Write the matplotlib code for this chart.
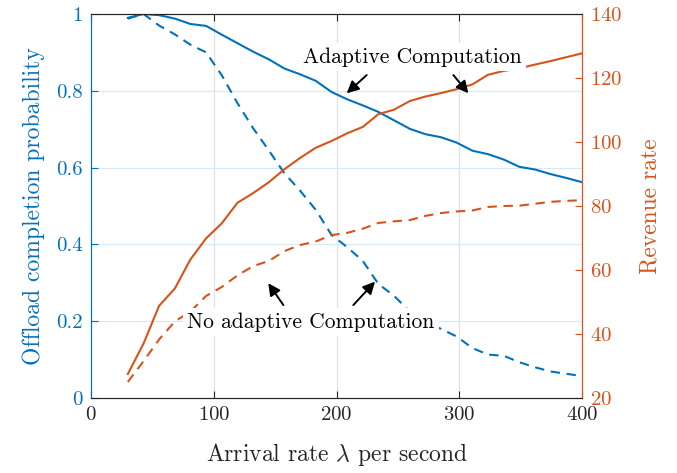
import matplotlib
matplotlib.use("Agg")
import matplotlib.pyplot as plt
import numpy as np

plt.rcParams['font.family'] = ['cmr10', 'DejaVu Serif']
plt.rcParams['mathtext.fontset'] = 'cm'
plt.rcParams['axes.unicode_minus'] = False
plt.rcParams['axes.formatter.use_mathtext'] = True

arrival_rate = [30, 42.8, 55.5, 68.3, 81, 93.8, 106.6, 119.3, 132, 144.8,
                157.6, 170.3, 183.1, 195.9, 208.6, 221.4, 234.1, 246.9, 259.7, 272.4,
                285.2, 297.9, 310.7, 323.4, 336.2, 349, 361.7, 374.5, 387.2, 400]

prob_adaptive = [0.990, 1.000, 0.997, 0.988, 0.974, 0.969, 0.946, 0.924, 0.902, 0.882,
                 0.858, 0.843, 0.826, 0.797, 0.778, 0.762, 0.745, 0.723, 0.701, 0.687,
                 0.679, 0.665, 0.644, 0.635, 0.621, 0.602, 0.595, 0.583, 0.573, 0.562]

prob_no_adaptive = [0.988, 1.000, 0.970, 0.947, 0.920, 0.900, 0.840, 0.768, 0.703, 0.645,
                    0.585, 0.540, 0.490, 0.425, 0.393, 0.357, 0.297, 0.266, 0.225, 0.196,
                    0.180, 0.160, 0.130, 0.113, 0.110, 0.093, 0.080, 0.069, 0.063, 0.057]

revenue_adaptive = [27.5, 37.0, 48.8, 54.2, 63.3, 69.9, 74.6, 81.0, 84.0, 87.4,
                    91.5, 95.0, 98.2, 100.3, 102.7, 104.7, 108.7, 110.1, 112.8, 114.2,
                    115.3, 116.5, 118.0, 121.0, 122.2, 123.0, 124.2, 125.3, 126.5, 127.7]

revenue_no_adaptive = [25.0, 31.5, 38.3, 43.9, 47.0, 51.9, 54.7, 58.3, 61.2, 62.8,
                       65.9, 67.8, 68.9, 70.9, 71.6, 72.9, 74.7, 75.2, 75.6, 76.9,
                       77.8, 78.3, 78.6, 79.7, 80.0, 80.1, 80.7, 81.3, 81.6, 81.8]

x_ticks = [0, 100, 200, 300, 400]
left_ticks = [0, 0.2, 0.4, 0.6, 0.8, 1]
left_ticklabels = ['0', '0.2', '0.4', '0.6', '0.8', '1']
right_ticks = [20, 40, 60, 80, 100, 120, 140]

BLUE = '#0072BD'
ORANGE = '#D95319'
DARK = '#262626'

fig = plt.figure(figsize=(6.77, 4.73), dpi=100)
ax1 = fig.add_axes([0.1344, 0.1586, 0.7253, 0.8118])
ax2 = ax1.twinx()

dash = (0, (4.5, 3.2))
ax1.plot(arrival_rate, prob_adaptive, color=BLUE, lw=1.5)
ax1.plot(arrival_rate, prob_no_adaptive, color=BLUE, lw=1.5, linestyle=dash)
ax2.plot(arrival_rate, revenue_adaptive, color=ORANGE, lw=1.5)
ax2.plot(arrival_rate, revenue_no_adaptive, color=ORANGE, lw=1.5, linestyle=dash)

ax1.set_xlim(0, 400)
ax1.set_ylim(0, 1)
ax2.set_ylim(20, 140)
ax1.set_xticks(x_ticks)
ax1.set_yticks(left_ticks)
ax1.set_yticklabels(left_ticklabels)
ax2.set_yticks(right_ticks)

# grid
for xv in x_ticks[1:-1]:
    ax1.axvline(xv, color='#e2e2e2', lw=0.9, zorder=0)
for yv in left_ticks[1:-1]:
    ax1.axhline(yv, color='#d9e8f5', lw=0.9, zorder=0)

ax1.tick_params(axis='x', direction='in', length=5, width=0.8, colors=DARK,
                labelsize=15, top=True, pad=6)
ax1.tick_params(axis='y', direction='in', length=5, width=0.8, colors=BLUE,
                labelsize=15, pad=6)
ax2.tick_params(axis='y', direction='in', length=5, width=0.8, colors=ORANGE,
                labelsize=15, pad=6)

for ax in (ax1, ax2):
    ax.spines['top'].set_color(DARK)
    ax.spines['bottom'].set_color(DARK)
    ax.spines['left'].set_color(BLUE)
    ax.spines['right'].set_color(ORANGE)
    for s in ax.spines.values():
        s.set_linewidth(0.8)

ax1.set_xlabel(r'Arrival rate $\lambda$ per second', fontsize=17, color=DARK, labelpad=12)
ax1.set_ylabel('Offload completion probability', fontsize=17, color=BLUE, labelpad=8)
ax2.set_ylabel('Revenue rate', fontsize=17, color=ORANGE, labelpad=12)

# annotations (drawn on top axes, positioned in left-axis data coords)
tr = ax1.transData
box = dict(boxstyle='square,pad=0.2', facecolor='white', edgecolor='none')
ax2.text(261.5, 0.888, 'Adaptive Computation', transform=tr, fontsize=15.5,
         ha='center', va='center', bbox=box, zorder=5)
ax2.text(179.2, 0.198, 'No adaptive Computation', transform=tr, fontsize=15.5,
         ha='center', va='center', bbox=box, zorder=5)

arrow = dict(arrowstyle='-|>', color='black', lw=1.4, mutation_scale=18,
             shrinkA=0, shrinkB=0)
for head, tail in [((208.3, 0.7935), (224.6, 0.841)),
                   ((307.4, 0.7935), (295.2, 0.841)),
                   ((144.4, 0.299), (156.7, 0.242)),
                   ((231.4, 0.303), (213.7, 0.242))]:
    ax2.annotate('', xy=head, xytext=tail, xycoords=tr, textcoords=tr,
                 arrowprops=arrow, zorder=6)

fig.savefig('out.png', dpi=100)
